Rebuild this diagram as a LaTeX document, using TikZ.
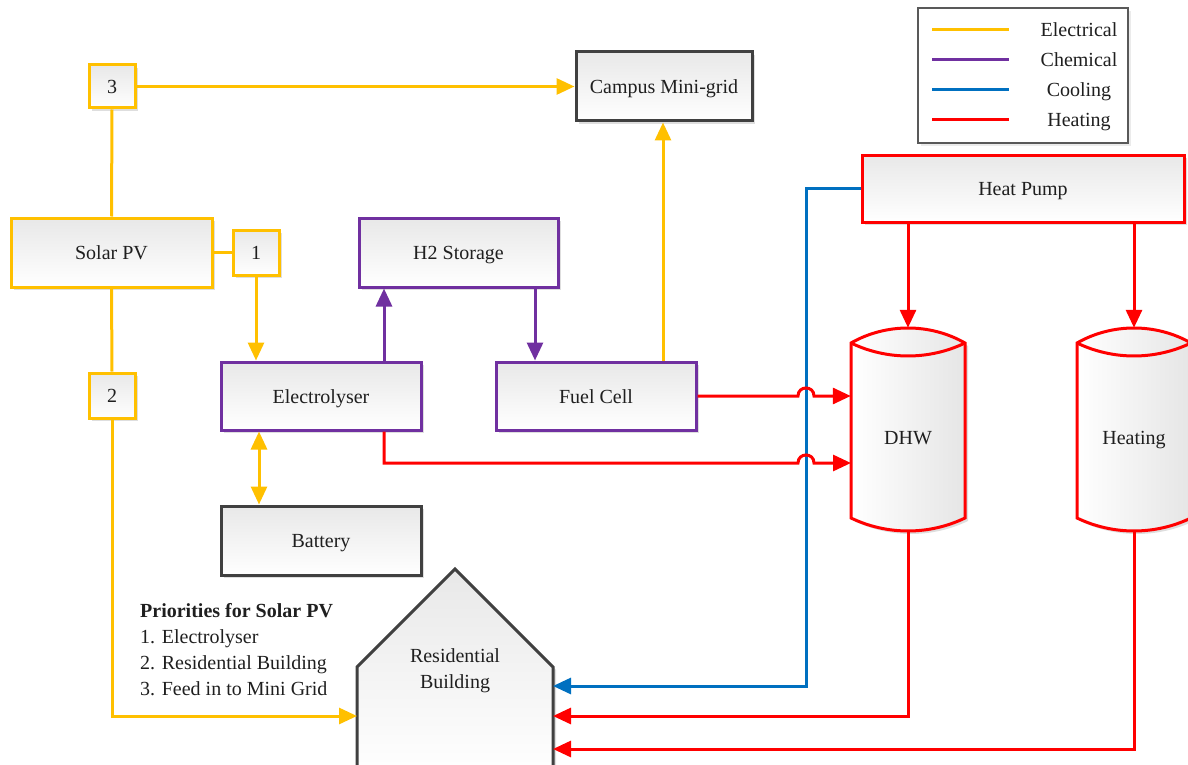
\documentclass[tikz,border=0pt]{standalone}
\usepackage{fontspec}
\setmainfont{Liberation Serif}
\usetikzlibrary{arrows.meta,shadows}
\definecolor{elec}{HTML}{FFC000}
\definecolor{chem}{HTML}{7030A0}
\definecolor{cool}{HTML}{0070C0}
\definecolor{heat}{HTML}{FF0000}
\definecolor{dark}{HTML}{404040}
\begin{document}
\begin{tikzpicture}[x=1pt,y=-1pt,
  every node/.style={font=\fontsize{20}{26}\selectfont, text=black!88},
  lbl/.style={text height=17pt, text depth=3pt},
  box/.style={rectangle, draw, line width=3pt, top color=black!9, bottom color=white, lbl,
    drop shadow={shadow xshift=3pt,shadow yshift=-3pt,fill=black!13,opacity=1}, inner sep=0pt},
  wire/.style={line width=3pt},
  arr/.style={wire, -{Triangle[length=18pt,width=16pt]}},
  darr/.style={wire, {Triangle[length=18pt,width=16pt]}-{Triangle[length=18pt,width=16pt]}},
  tank/.pic={
    \fill[black!13] (3,346) .. controls (38,326) and (82,326) .. (117,346) -- (117,521)
      .. controls (81,538.3) and (39,538.3) .. (3,521) -- cycle;
    \draw[line width=3pt, draw=heat, left color=white, right color=black!10]
      (0,343) .. controls (35,323) and (79,323) .. (114,343) -- (114,518)
      .. controls (78,535.3) and (36,535.3) .. (0,518) -- cycle;
    \draw[line width=3pt, draw=heat] (0,343) .. controls (36,360.3) and (78,360.3) .. (114,343);
  }]
\useasboundingbox (0,0) rectangle (1188,765);

% legend
\node[draw=black!65, line width=1.5pt, minimum width=210pt, minimum height=135pt, fill=white,
  drop shadow={shadow xshift=3pt,shadow yshift=-3pt,fill=black!8,opacity=1}] (leg) at (1023,75.5) {};
\coordinate (l1a) at (932,30); \coordinate (l1b) at (1009,30);
\coordinate (l2a) at (932,60); \coordinate (l2b) at (1009,60);
\coordinate (l3a) at (932,90); \coordinate (l3b) at (1009,90);
\coordinate (l4a) at (932,120); \coordinate (l4b) at (1009,120);
\draw[wire, elec] (l1a) -- (l1b);
\draw[wire, chem] (l2a) -- (l2b);
\draw[wire, cool] (l3a) -- (l3b);
\draw[wire, heat] (l4a) -- (l4b);
\node[lbl] (t1) at (1079,30) {Electrical};
\node[lbl] (t2) at (1079,60) {Chemical};
\node[lbl] (t3) at (1079,90) {Cooling};
\node[lbl] (t4) at (1079,120) {Heating};

% boxes
\node[box, draw=elec, minimum width=46pt, minimum height=43pt] (n3) at (112,86.5) {3};
\node[box, draw=dark, minimum width=176pt, minimum height=69pt] (grid) at (664,86.5) {Campus Mini-grid};
\node[box, draw=elec, minimum width=201pt, minimum height=69pt] (pv) at (111.5,252.5) {Solar PV};
\node[box, draw=elec, minimum width=46pt, minimum height=45pt] (n1) at (256,252.5) {1};
\node[box, draw=elec, minimum width=46pt, minimum height=45pt] (n2) at (112,395.5) {2};
\node[box, draw=chem, minimum width=199pt, minimum height=69pt] (h2) at (458.5,252.5) {H2 Storage};
\node[box, draw=chem, minimum width=200pt, minimum height=68pt] (ely) at (321,396) {Electrolyser};
\node[box, draw=chem, minimum width=200pt, minimum height=68pt] (fc) at (596,396) {Fuel Cell};
\node[box, draw=dark, minimum width=200pt, minimum height=69pt] (bat) at (321,540.5) {Battery};
\node[box, draw=heat, minimum width=322pt, minimum height=67pt] (hp) at (1023,188.5) {Heat Pump};

% tanks
\pic at (851,0) {tank};
\pic at (1077,0) {tank};
\node[minimum width=114pt, minimum height=203pt, inner sep=0pt] (dhw) at (908,429.5) {};
\node[minimum width=114pt, minimum height=203pt, inner sep=0pt] (htg) at (1134,429.5) {};
\node[lbl] (dhwt) at (908,437) {DHW};
\node[lbl] (htgt) at (1134,437) {Heating};

% residential building
\fill[black!13] (360,770) -- (360,670) -- (458,572) -- (556,670) -- (556,770) -- cycle;
\draw[line width=3pt, draw=dark, top color=black!9, bottom color=white]
  (357,775) -- (357,667) -- (455,569) -- (553,667) -- (553,775) -- cycle;
\node[align=center] (res) at (455,671) {Residential\\Building};
\coordinate (resW) at (357,716);
\coordinate (resE1) at (553,686);
\coordinate (resE2) at (553,716);
\coordinate (resE3) at (553,749);

% priorities
\node[anchor=north west, align=left, inner sep=0pt] (prio) at (140,603)
  {\textbf{Priorities for Solar PV}\\1. Electrolyser\\2. Residential Building\\3. Feed in to Mini Grid};

% electrical
\draw[arr, elec] (n3.east) -- (grid.west);
\draw[wire, elec] (n3.south) -- (pv.north);
\draw[wire, elec] (pv.east) -- (n1.west);
\draw[arr, elec] (n1.south) -- (n1.south |- ely.north);
\draw[wire, elec] (pv.south) -- (n2.north);
\draw[arr, elec] (n2.south) |- (resW);
\draw[arr, elec] (fc.north -| 663,0) -- (grid.south -| 663,0);
\draw[darr, elec] (ely.south -| 259,0) -- (bat.north -| 259,0);

% chemical
\draw[arr, chem] (ely.north -| 384,0) -- (h2.south -| 384,0);
\draw[arr, chem] (h2.south -| 535,0) -- (fc.north -| 535,0);

% cooling
\draw[arr, cool] (hp.west) -| (806,686) -- (resE1);

% heating
\draw[arr, heat] (hp.south -| 908,0) -- (dhw.north);
\draw[arr, heat] (hp.south -| 1134,0) -- (htg.north);
\draw[arr, heat] (fc.east) -- (798,396) .. controls (798,385.3) and (814,385.3) .. (814,396) -- (dhw.west |- fc.east);
\draw[arr, heat] (ely.south -| 384,0) -- (384,463) -- (798,463) .. controls (798,452.3) and (814,452.3) .. (814,463) -- (851,463);
\draw[arr, heat] (908,531) |- (resE2);
\draw[arr, heat] (1134,531) |- (resE3);
\end{tikzpicture}
\end{document}
